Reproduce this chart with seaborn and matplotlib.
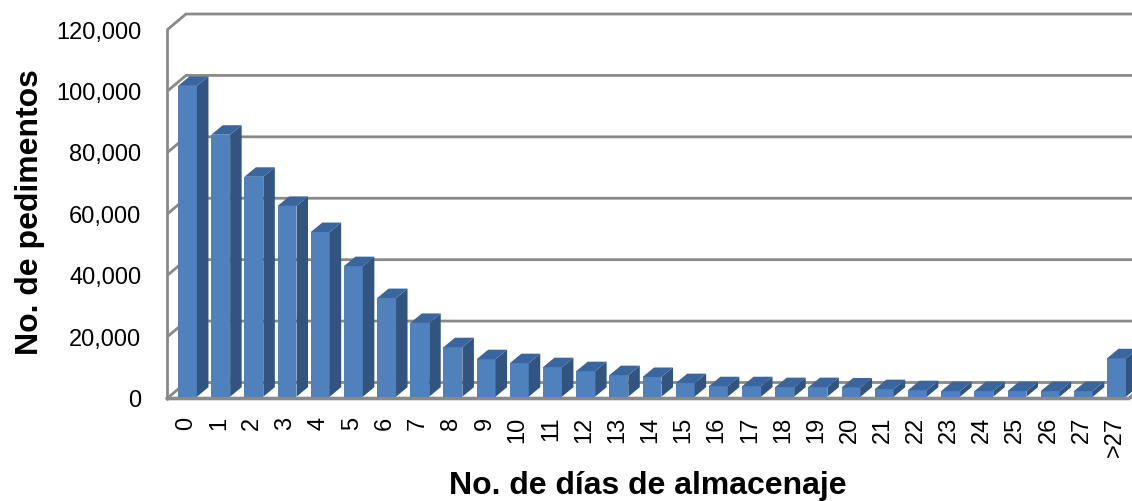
import pandas as pd
import numpy as np
import matplotlib.pyplot as plt
from matplotlib.patches import Polygon
import seaborn as sns

dias = [str(i) for i in range(28)] + ['>27']
pedimentos = [101200, 85300, 71600, 62100, 53600, 42500, 32100, 24000, 16100, 12200,
              10900, 9600, 8300, 7000, 6400, 4400, 3400, 3400, 3100, 3100,
              3000, 2450, 2100, 1800, 1800, 1800, 1800, 1800, 12500]
y_ticks = [0, 20000, 40000, 60000, 80000, 100000, 120000]

W, H = 1132, 501
gris = '#8a8a8a'
frente = '#4f81bd'
lado = '#32547f'
tapa = '#3a669f'

sns.set_style('white')
plt.rcParams['font.family'] = ['Liberation Sans', 'DejaVu Sans']

df = pd.DataFrame({'dias': dias, 'pedimentos': pedimentos})

fig = plt.figure(figsize=(W / 100, H / 100), dpi=100)
# ejes en pixeles de la imagen
ax = fig.add_axes([167 / W, 1 - 398.5 / H, (1129 - 167) / W, (398.5 - 30) / H])
ax.patch.set_alpha(0)

sns.barplot(data=df, x='dias', y='pedimentos', color=frente, saturation=1, width=0.57,
            linewidth=0, bottom=600, ax=ax, zorder=3)

px_x = 33.18
ax.set_xlim(-(187.5 - 167) / px_x, (1129 - 187.5) / px_x)
ax.set_ylim(0, 120000)
px_y = 120000 / (398.5 - 30)

# paredes del fondo
fx, fy = 19 / px_x, 16 * px_y
x0, x1 = ax.get_xlim()
for v in y_ticks:
    ax.plot([x0, x0 + fx, x1 + fx], [v, v + fy, v + fy], color=gris, lw=2,
            clip_on=False, zorder=1, solid_capstyle='butt')
ax.plot([x0, x0], [0, 120000], color=gris, lw=2, clip_on=False, zorder=2)
ax.plot([x0, x1, x1 + 6 / px_x], [0, 0, 5 * px_y], color=gris, lw=2.6, clip_on=False, zorder=2)

# caras de profundidad de cada barra
dx, dy = 11.5 / px_x, 9.5 * px_y
for b in ax.patches[:len(dias)]:
    l, r = b.get_x(), b.get_x() + b.get_width()
    y0, y1 = b.get_y(), b.get_y() + b.get_height()
    ax.add_patch(Polygon([(r, y0), (r + dx, y0 + dy), (r + dx, y1 + dy), (r, y1)],
                         fc=lado, ec='none', zorder=3, clip_on=False))
    ax.add_patch(Polygon([(l, y1), (l + dx, y1 + dy), (r + dx, y1 + dy), (r, y1)],
                         fc=tapa, ec='none', zorder=3, clip_on=False))

sns.despine(ax=ax, left=True, bottom=True, top=True, right=True)
ax.set_yticks(y_ticks)
ax.set_yticklabels(['{:,}'.format(v) for v in y_ticks], fontsize=17, color='black')
ax.set_xticks(np.arange(len(dias)) - 0.05)
ax.set_xticklabels(dias, rotation=90, fontsize=17, color='black')
ax.tick_params(axis='y', length=0, pad=18.5)
ax.tick_params(axis='x', length=0, pad=13)
ax.set_xlabel('')
ax.set_ylabel('')
fig.text(648 / W, 1 - 486 / H, 'No. de días de almacenaje', fontsize=23, fontweight='bold',
         ha='center', va='center', color='black')
fig.text(30 / W, 1 - 212 / H, 'No. de pedimentos', fontsize=23, fontweight='bold',
         rotation=90, ha='center', va='center', color='black')

fig.savefig('out.png', dpi=100)
